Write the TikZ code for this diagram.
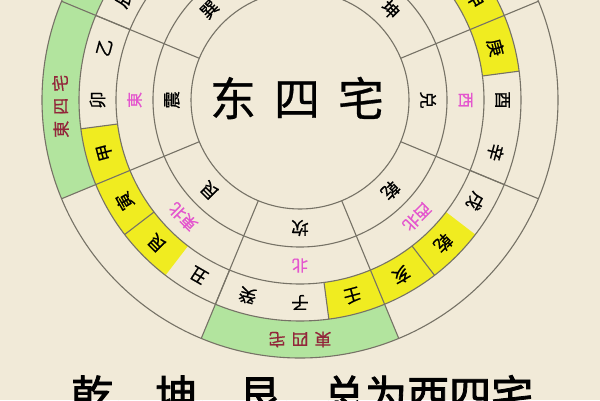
\documentclass[tikz,border=0pt]{standalone}
\usepackage{fontspec}
\usepackage{tikz}
\usetikzlibrary{calc}
\newfontfamily\cjk{Noto Sans CJK SC}
\newfontfamily\cjkmid[FakeBold=0.6]{Noto Sans CJK SC}
\newfontfamily\cjkbold[FakeBold=2]{Noto Sans CJK SC}
\definecolor{paper}{RGB}{241,234,216}
\definecolor{ringline}{RGB}{118,114,102}
\definecolor{jadegreen}{RGB}{178,228,158}
\definecolor{lemon}{RGB}{240,236,32}
\definecolor{rosepink}{RGB}{228,86,206}
\definecolor{wine}{RGB}{146,38,58}

\begin{document}
\begin{tikzpicture}[x=1pt, y=1pt, font=\cjk,
    ring/.style={draw=ringline, line width=1.1pt},
    mtn/.style={inner sep=0pt, font=\cjkmid\fontsize{17.5}{17.5}\selectfont},
    gua/.style={inner sep=0pt, font=\cjkmid\fontsize{17.5}{17.5}\selectfont},
    fang/.style={inner sep=0pt, text=rosepink, font=\cjkmid\fontsize{16}{16}\selectfont},
    zhai/.style={inner sep=0pt, text=wine, font=\cjkmid\fontsize{17}{17}\selectfont}]

    \useasboundingbox (0,0) rectangle (600,400);
    \clip (0,0) rectangle (600,400);
    \fill[paper] (0,0) rectangle (600,400);
    \coordinate (o) at (300,300);

    \foreach \a [evaluate=\a as \lo using \a-22.5, evaluate=\a as \hi using \a+22.5] in {90,135,180,270}
    {
      \fill[jadegreen] ($(o)+(\lo:221)$) arc[start angle=\lo, end angle=\hi, radius=221]
        -- ($(o)+(\hi:258)$) arc[start angle=\hi, end angle=\lo, radius=258] -- cycle;
    }
    \foreach \a [evaluate=\a as \lo using \a-7.5, evaluate=\a as \hi using \a+7.5] in {15,30,195,210,225,285,300,315}
    {
      \fill[lemon] ($(o)+(\lo:184)$) arc[start angle=\lo, end angle=\hi, radius=184]
        -- ($(o)+(\hi:221)$) arc[start angle=\hi, end angle=\lo, radius=221] -- cycle;
    }

    \foreach \r in {109,147,184,221,258}
      \draw[ring] (o) circle[radius=\r];
    \foreach \a in {22.5,67.5,...,337.5}
      \draw[ring] ($(o)+(\a:109)$) -- ($(o)+(\a:258)$);
    \foreach \a in {7.5,37.5,...,352.5}
      \draw[ring] ($(o)+(\a:184)$) -- ($(o)+(\a:221)$);

    \foreach \a/\t in {150/辰,165/乙,180/卯,195/甲,210/寅,225/艮,240/丑,255/癸,270/子,
                       285/壬,300/亥,315/乾,330/戌,345/辛,360/酉,15/庚,30/申}
      \node[mtn, rotate=\a-90] (m\a) at ($(o)+(\a:202.5)$) {\t};

    \foreach \a/\t in {135/東南,180/東,225/東北,270/北,315/西北,360/西,45/西南}
      \node[fang, rotate=\a-90] (f\a) at ($(o)+(\a:165.5)$) {\t};

    \foreach \a/\t in {135/巽,180/震,225/艮,270/坎,315/乾,360/兑,45/坤}
      \node[gua, rotate=\a-90] (g\a) at ($(o)+(\a:128)$) {\t};

    \node[zhai, rotate=91] (zleft) at ($(o)+(181.5:239.5)$) {東\hspace{6pt}四\hspace{6pt}宅};
    \node[zhai, rotate=180] (zdown) at ($(o)+(270:239.5)$) {東\hspace{6pt}四\hspace{6pt}宅};

    \node[inner sep=0pt, font=\cjkmid\fontsize{46}{46}\selectfont] (title) at (297,302)
      {东\hspace{18pt}四\hspace{18pt}宅};
    \node[anchor=north west, inner sep=0pt, font=\cjkbold\fontsize{42}{42}\selectfont] (note) at (71,25)
      {乾、坤、艮、总为西四宅};
\end{tikzpicture}
\end{document}
